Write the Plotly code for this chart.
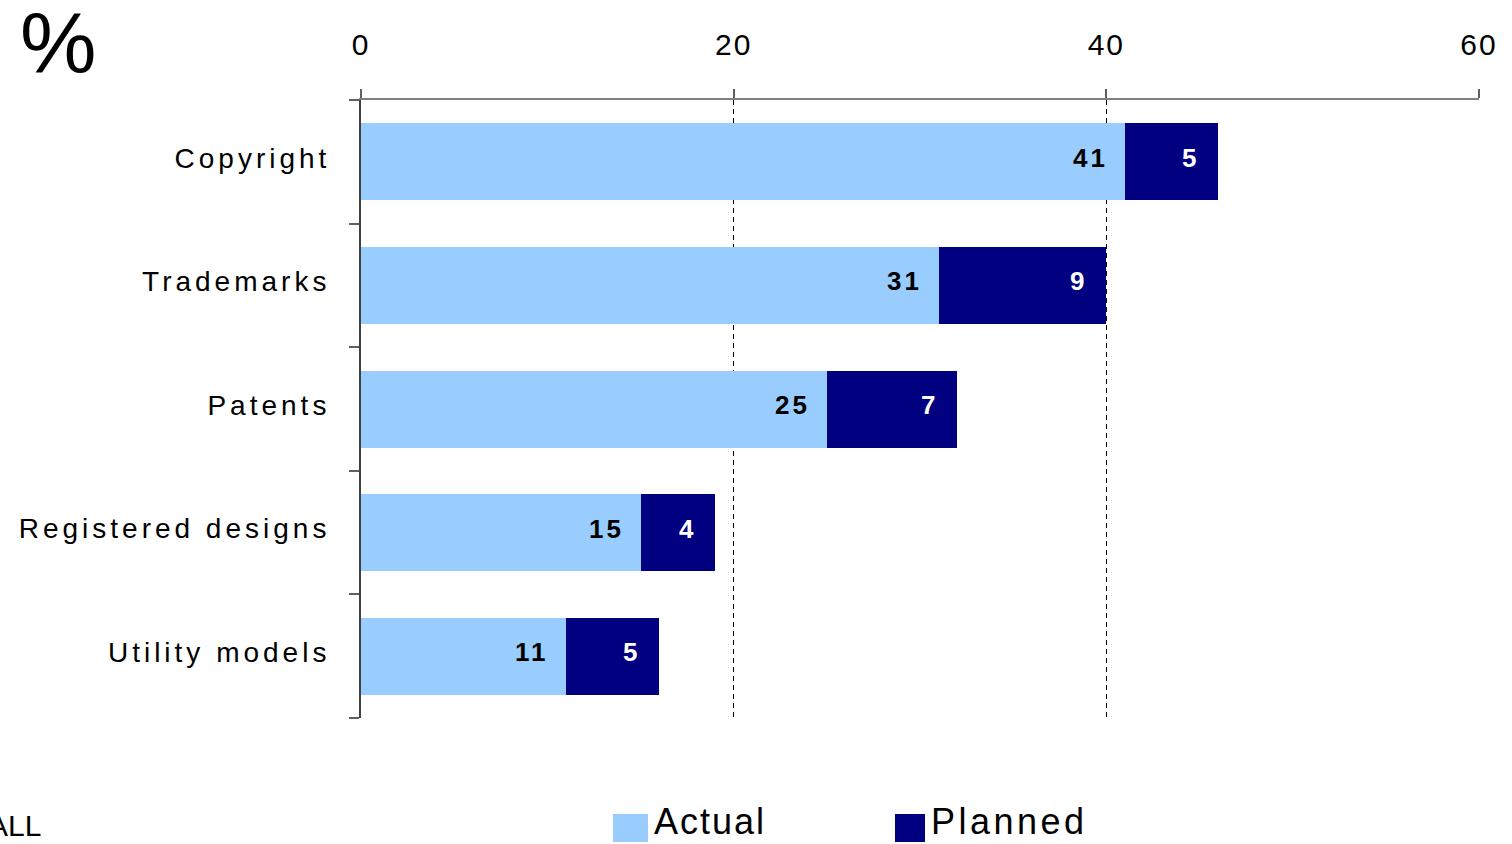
import plotly.graph_objects as go

# Share of firms using each IP right: actual use and planned further use (%)
categories = ["Copyright", "Trademarks", "Patents", "Registered designs", "Utility models"]
actual = [41, 31, 25, 15, 11]
planned = [5, 9, 7, 4, 5]
x_ticks = [0, 20, 40, 60]

LIGHT = "#99CCFF"
NAVY = "#000080"
FONT = "Liberation Sans, Arial, sans-serif"

W, H = 1512, 844
L, R, T, B = 361, 33, 100, 126
PW, PH = W - L - R, H - T - B


def px_x(p):
    return (p - L) / PW


def px_y(p):
    return (H - B - p) / PH


def spaced(text, sp):
    return f'<span style="letter-spacing:{sp}px">{text}</span>'


fig = go.Figure()
fig.add_trace(go.Bar(y=categories, x=actual, orientation="h", name="Actual",
                     marker=dict(color=LIGHT, line=dict(width=0))))
fig.add_trace(go.Bar(y=categories, x=planned, orientation="h", name="Planned",
                     marker=dict(color=NAVY, line=dict(width=0))))

annotations = []
# value labels just inside the end of each segment
for cat, a, p in zip(categories, actual, planned):
    annotations.append(dict(x=a, y=cat, xref="x", yref="y", text=spaced(f"<b>{a}</b>", 3),
                            showarrow=False, xanchor="right", xshift=-15, yshift=4,
                            font=dict(family=FONT, size=26, color="black")))
    annotations.append(dict(x=a + p, y=cat, xref="x", yref="y", text=spaced(f"<b>{p}</b>", 2),
                            showarrow=False, xanchor="right", xshift=-18, yshift=4,
                            font=dict(family=FONT, size=26, color="white")))

# unit marker and footer
annotations.append(dict(x=px_x(58), y=px_y(43), xref="paper", yref="paper", text="%",
                        showarrow=False, xanchor="center", yanchor="middle",
                        font=dict(family=FONT, size=86, color="black")))
annotations.append(dict(x=px_x(43), y=px_y(825), xref="paper", yref="paper", text="ALL",
                        showarrow=False, xanchor="right", yanchor="middle",
                        font=dict(family=FONT, size=30, color="black")))

# legend swatches and labels
shapes = []
legend_items = [("Actual", LIGHT, 613, 648, 2), ("Planned", NAVY, 895, 925, 3.5)]
for label, color, x0, x1, sp in legend_items:
    shapes.append(dict(type="rect", xref="paper", yref="paper",
                       x0=px_x(x0), x1=px_x(x1), y0=px_y(842), y1=px_y(814),
                       fillcolor=color, line=dict(width=0)))
    annotations.append(dict(x=px_x(x1 + 4), y=px_y(821), xref="paper", yref="paper",
                            text=spaced(label, sp), showarrow=False,
                            xanchor="left", yanchor="middle",
                            font=dict(family=FONT, size=36, color="black")))

fig.update_layout(
    width=W, height=H,
    margin=dict(l=L, r=R, t=T, b=B, autoexpand=False),
    barmode="stack", bargap=0.377,
    showlegend=False,
    plot_bgcolor="white", paper_bgcolor="white",
    font=dict(family=FONT, color="black"),
    xaxis=dict(side="top", range=[0, 60], tickvals=x_ticks,
               ticktext=[spaced(str(v), 2) for v in x_ticks],
               showgrid=True, gridcolor="black", gridwidth=1, griddash="5px,4px",
               zeroline=False, showline=True, linecolor="#808080", linewidth=2,
               ticks="outside", ticklen=9, tickwidth=2, tickcolor="#606060",
               ticklabelstandoff=22,
               tickfont=dict(family=FONT, size=30, color="black"),
               fixedrange=True),
    yaxis=dict(autorange="reversed", categoryorder="array", categoryarray=categories,
               tickmode="array", tickvals=categories,
               ticktext=[spaced(c, 4) for c in categories],
               showline=True, linecolor="#404040", linewidth=2,
               ticks="outside", tickson="boundaries", ticklen=10, tickwidth=2,
               tickcolor="#606060", showgrid=False, zeroline=False,
               ticklabelstandoff=23, ticklabelshift=4,
               tickfont=dict(family=FONT, size=28, color="black"),
               fixedrange=True),
    annotations=annotations,
    shapes=shapes,
)

fig.write_html("out.html", config={"displayModeBar": False})
